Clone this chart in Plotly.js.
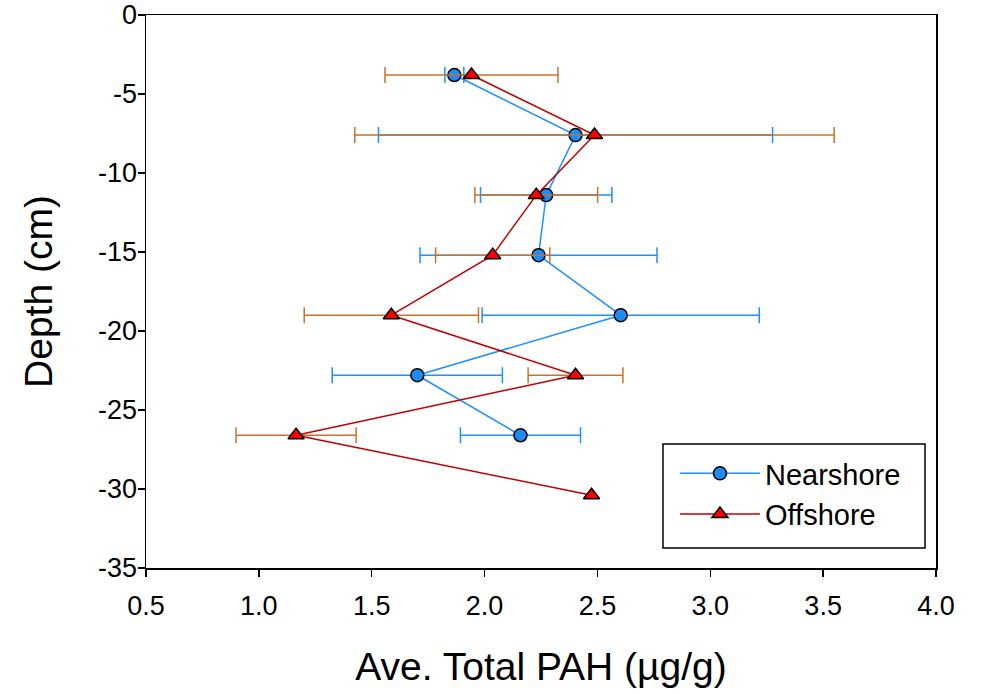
<!DOCTYPE html>
<html>
<head>
<meta charset="utf-8">
<script src="https://cdn.plot.ly/plotly-3.0.1.min.js"></script>
<style>body{margin:0;padding:0;background:#fff;}#chart{width:981px;height:694px;}</style>
</head>
<body>
<div id="chart"></div>
<script>
// Depth (cm) of each sample layer
const depthNear = [-3.8, -7.6, -11.4, -15.2, -19.0, -22.8, -26.6];
const depthOff = [-3.8, -7.6, -11.4, -15.2, -19.0, -22.8, -26.6, -30.4];
// Average total PAH (µg/g)
const pahNear = [1.866, 2.403, 2.273, 2.239, 2.603, 1.702, 2.159];
const pahOff = [1.942, 2.487, 2.229, 2.036, 1.587, 2.403, 1.165, 2.474];
// Error (± µg/g)
const errNear = [0.042, 0.873, 0.291, 0.525, 0.614, 0.377, 0.266];
const errOff = [0.383, 1.062, 0.272, 0.253, 0.386, 0.21, 0.266, NaN];
const xTicks = [0.5, 1.0, 1.5, 2.0, 2.5, 3.0, 3.5, 4.0];
const xTickText = ['0.5', '1.0', '1.5', '2.0', '2.5', '3.0', '3.5', '4.0'];
const yTicks = [0, -5, -10, -15, -20, -25, -30, -35];
const yTickText = ['0', '-5', '-10', '-15', '-20', '-25', '-30', '-35'];

const font = 'Liberation Sans, Arial, sans-serif';

const traces = [
  {
    name: 'Nearshore', x: pahNear, y: depthNear, type: 'scatter', mode: 'lines+markers',
    line: {color: '#1E90FF', width: 1.5},
    marker: {symbol: 'circle', size: 13, color: '#1E8CF5', line: {color: '#000', width: 1.5}},
    error_x: {type: 'data', array: errNear, visible: true, color: '#1E90FF', thickness: 1.5, width: 8}
  },
  {
    name: 'Offshore', x: pahOff, y: depthOff, type: 'scatter', mode: 'lines+markers',
    line: {color: '#C00000', width: 1.5},
    marker: {symbol: 'triangle-up', size: 14, color: '#FF0000', line: {color: '#000', width: 1.5}},
    error_x: {type: 'data', array: errOff, visible: true, color: '#C8732A', thickness: 1.5, width: 8}
  }
];

const layout = {
  width: 981, height: 694,
  margin: {l: 146, r: 45, t: 15, b: 126},
  paper_bgcolor: '#fff', plot_bgcolor: '#fff',
  font: {family: font, color: '#000', size: 26},
  showlegend: true,
  legend: {
    x: 0.6696, y: 0.217, xanchor: 'left', yanchor: 'top',
    bgcolor: 'rgba(0,0,0,0)', borderwidth: 0,
    font: {family: font, size: 29, color: '#000'},
    itemwidth: 80, tracegroupgap: 0
  },
  shapes: [{
    type: 'rect', xref: 'paper', yref: 'paper', layer: 'above',
    x0: 0.6544, x1: 0.9861, y0: 0.0362, y1: 0.2242,
    fillcolor: '#fff', line: {color: '#000', width: 1.5}
  }],
  xaxis: {
    range: [0.5, 4.0], tickvals: xTicks, ticktext: xTickText,
    ticks: 'outside', ticklen: 7, tickwidth: 1.5, tickcolor: '#000',
    showline: true, linecolor: '#000', linewidth: 1.5, mirror: true,
    showgrid: false, zeroline: false, ticklabelstandoff: 6,
    tickfont: {family: font, size: 27, color: '#000'},
    title: {text: 'Ave. Total PAH (µg/g)', font: {family: font, size: 39, color: '#000'}, standoff: 33}
  },
  yaxis: {
    range: [-35, 0], tickvals: yTicks, ticktext: yTickText,
    ticks: 'outside', ticklen: 7, tickwidth: 1.5, tickcolor: '#000',
    showline: true, linecolor: '#000', linewidth: 1.5, mirror: true,
    showgrid: false, zeroline: false, ticklabelstandoff: -5,
    tickfont: {family: font, size: 27, color: '#000'},
    title: {text: 'Depth (cm)', font: {family: font, size: 39, color: '#000'}, standoff: 33}
  }
};

Plotly.newPlot('chart', traces, layout, {displayModeBar: false, staticPlot: true});
</script>
</body>
</html>
